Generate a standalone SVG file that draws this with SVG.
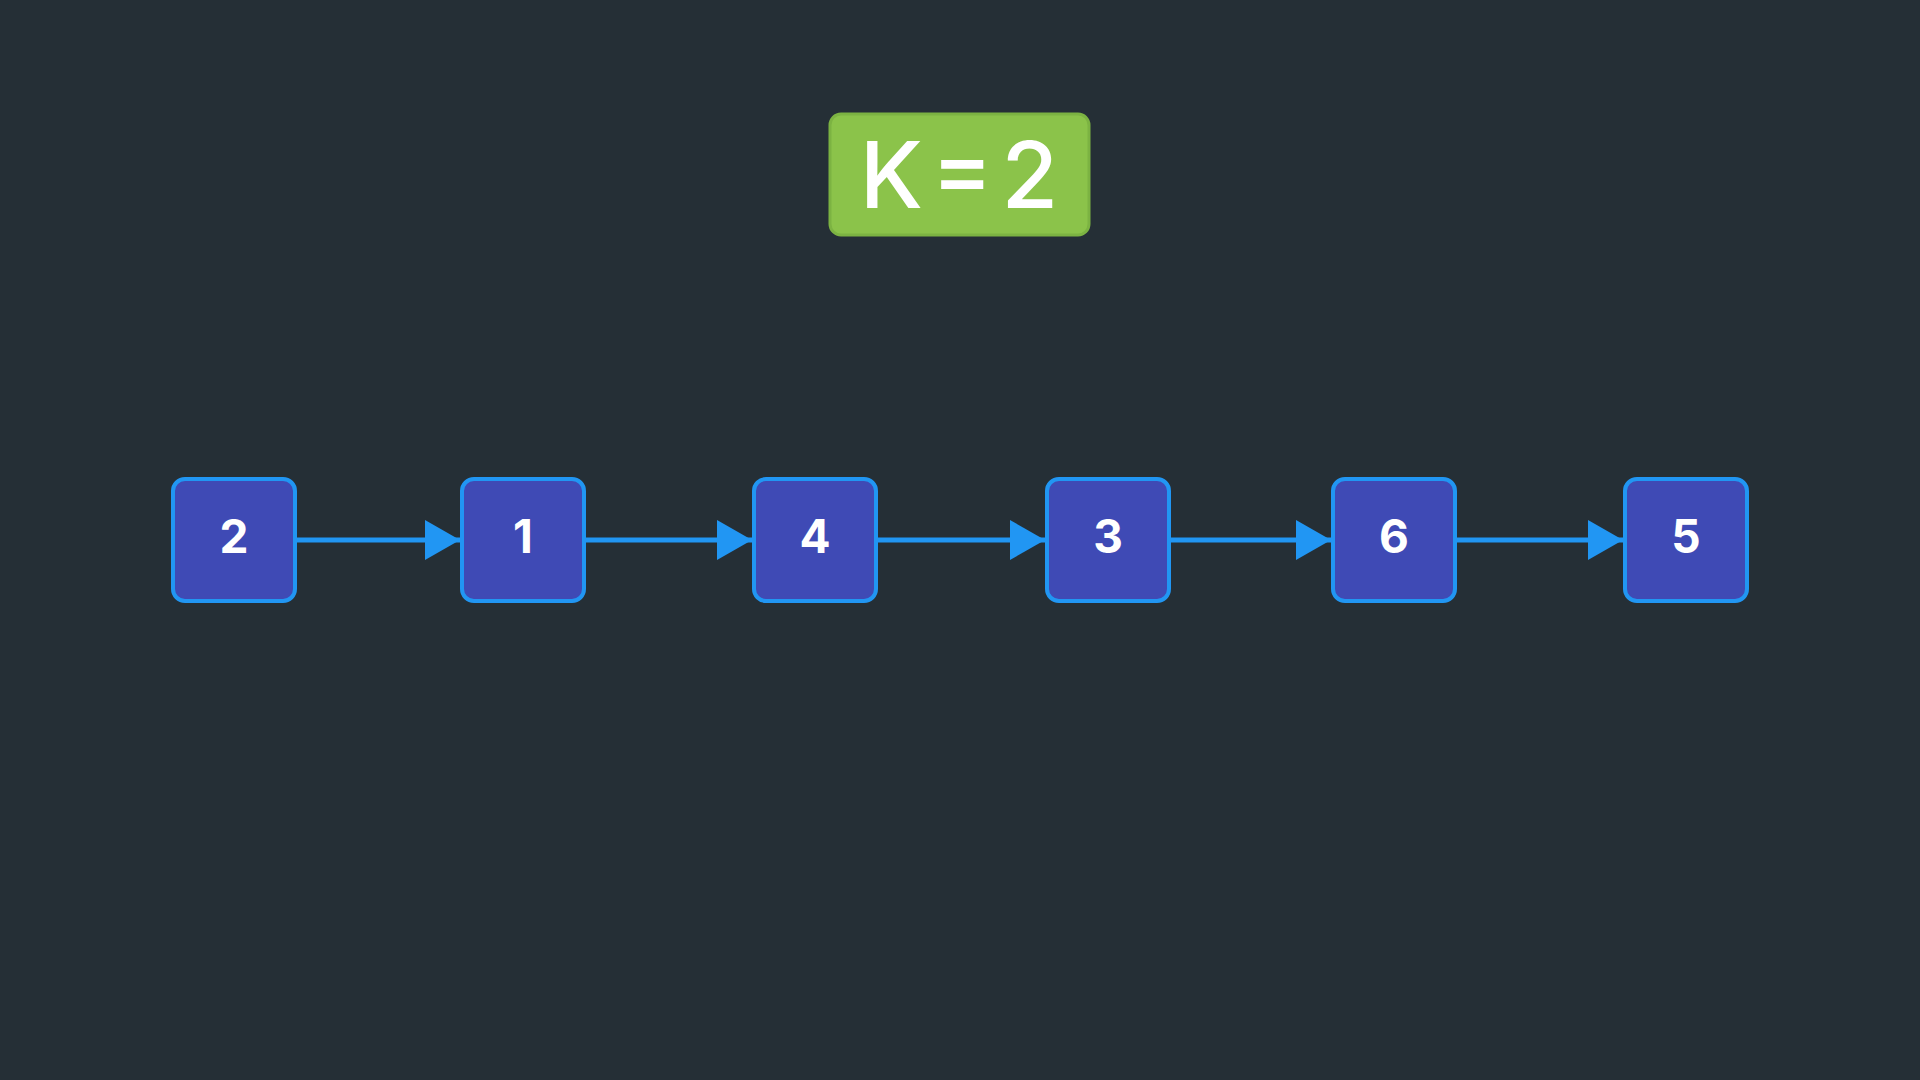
<svg xmlns="http://www.w3.org/2000/svg" width="1920" height="1080" viewBox="0 0 1920 1080">
<defs>
<style>
.node rect{fill:#3F4AB5;stroke:#2196F3;stroke-width:4}
.node text{font-family:Inter,"Noto Sans",sans-serif;font-weight:700;font-size:46px;fill:#FFFFFF;text-anchor:middle;dominant-baseline:central}
.edge{stroke:#2196F3;stroke-width:5;fill:none}
</style>
<marker id="ah" markerUnits="userSpaceOnUse" markerWidth="36" markerHeight="42" refX="35" refY="21" orient="auto">
<path d="M0,1 L35,21 L0,41 Z" fill="#2196F3"/>
</marker>
</defs>
<rect x="0" y="0" width="1920" height="1080" fill="#252F36"/>
<g id="k-label">
<rect x="830" y="114" width="259" height="121" rx="11" fill="#8BC34A" stroke="#7CB342" stroke-width="3"/>
<text x="959" y="174" font-family="Inter,'Noto Sans',sans-serif" font-weight="500" font-size="92" word-spacing="-16" fill="#FFFFFF" text-anchor="middle" dominant-baseline="central">K = 2</text>
</g>
<g id="connectors">
<line class="edge" x1="295" y1="540" x2="460" y2="540" marker-end="url(#ah)"/>
<line class="edge" x1="584" y1="540" x2="752" y2="540" marker-end="url(#ah)"/>
<line class="edge" x1="876" y1="540" x2="1045" y2="540" marker-end="url(#ah)"/>
<line class="edge" x1="1169" y1="540" x2="1331" y2="540" marker-end="url(#ah)"/>
<line class="edge" x1="1455" y1="540" x2="1623" y2="540" marker-end="url(#ah)"/>
</g>
<g id="node-2" class="node"><rect x="173" y="479" width="122" height="122" rx="12"/><text x="234" y="536">2</text></g>
<g id="node-1" class="node"><rect x="462" y="479" width="122" height="122" rx="12"/><text x="523" y="536">1</text></g>
<g id="node-4" class="node"><rect x="754" y="479" width="122" height="122" rx="12"/><text x="815" y="536">4</text></g>
<g id="node-3" class="node"><rect x="1047" y="479" width="122" height="122" rx="12"/><text x="1108" y="536">3</text></g>
<g id="node-6" class="node"><rect x="1333" y="479" width="122" height="122" rx="12"/><text x="1394" y="536">6</text></g>
<g id="node-5" class="node"><rect x="1625" y="479" width="122" height="122" rx="12"/><text x="1686" y="536">5</text></g>
</svg>
